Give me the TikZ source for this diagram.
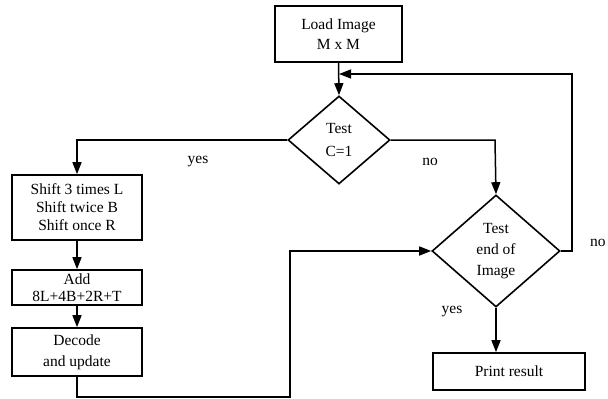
\documentclass[tikz,border=0pt]{standalone}
\usepackage{fontspec}
\setmainfont{Liberation Serif}
\usetikzlibrary{shapes.geometric,arrows.meta,calc}
\begin{document}
\begin{tikzpicture}[x=1pt,y=-1pt,
  every node/.style={font=\fontsize{15.5}{20}\selectfont},
  box/.style={draw,line width=1.6pt,inner sep=0pt,align=center},
  dec/.style={draw,diamond,line width=1.6pt,inner sep=0pt,align=center},
  flow/.style={line width=1.5pt,-{Triangle[length=12pt,width=9pt]}},
  lbl/.style={inner sep=0pt}]
\useasboundingbox (0,0) rectangle (608,399);

% process boxes
\node[box,minimum width=127pt,minimum height=56pt] (load) at (338.5,34) {Load Image\\M x M};
\node[box,minimum width=130pt,minimum height=65pt,font=\fontsize{15.5}{18}\selectfont] (shift) at (77,207.5) {Shift 3 times L\\Shift twice B\\Shift once R};
\node[box,minimum width=130pt,minimum height=35pt,font=\fontsize{15.5}{17.5}\selectfont] (add) at (77,287.5) {Add\\8L+4B+2R+T};
\node[box,minimum width=130pt,minimum height=48pt,font=\fontsize{15.5}{21}\selectfont] (decode) at (77,352) {Decode\\and update};
\node[box,minimum width=152pt,minimum height=37pt] (print) at (509,371.5) {Print result};

% decisions
\node[dec,minimum width=102pt,minimum height=88pt,font=\fontsize{15.5}{23}\selectfont] (test1) at (339,140) {Test\\C=1};
\node[dec,minimum width=128pt,minimum height=112pt,font=\fontsize{15.5}{21}\selectfont] (test2) at (496,251) {Test\\end of\\Image};

% bends of the connectors
\coordinate (yesL) at (77,140);
\coordinate (noR) at (495,140);
\coordinate (loopB) at (572,251);
\coordinate (loopT) at (572,74);
\coordinate (loopIn) at (339,74);
\coordinate (botL) at (77,397);
\coordinate (botR) at (290,397);
\coordinate (upT) at (290,251);

% connectors
\draw[flow] (load.south) -- (test1.north);
\draw[flow] (test1.west) -- (yesL) -- (shift.north);
\draw[flow] (test1.east) -- (noR) -- (test2.north);
\draw[flow] (shift.south) -- (add.north);
\draw[flow] (add.south) -- (decode.north);
\draw[flow] (decode.south) -- (botL) -- (botR) -- (upT) -- (test2.west);
\draw[flow] (test2.east) -- (loopB) -- (loopT) -- (loopIn);
\draw[flow] (test2.south) -- (test2.south |- print.north);

% branch labels
\node[lbl] (yes1) at (198,162) {yes};
\node[lbl] (no1) at (430,162) {no};
\node[lbl,anchor=west] (no2) at (590,243) {no};
\node[lbl] (yes2) at (452,312) {yes};
\end{tikzpicture}
\end{document}
